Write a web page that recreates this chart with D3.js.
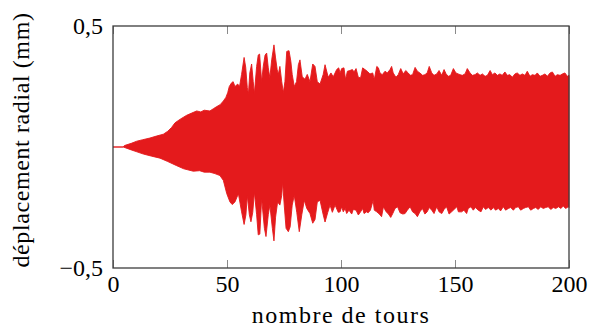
<!DOCTYPE html>
<html>
<head>
<meta charset="utf-8">
<script src="https://cdn.jsdelivr.net/npm/d3@7"></script>
<style>
  html, body { margin: 0; padding: 0; background: #fff; }
  svg { display: block; }
</style>
</head>
<body>
<svg id="chart" width="590" height="334"></svg>
<script>
// ---- Data ----
// Upper envelope of the radial displacement signal: turn number / value (mm)
const upperTurns = [0, 4.5, 5, 8, 10.4, 13, 16.2, 19, 22.1, 24, 25.7, 27.2, 29.5, 32.3, 34.5, 36.7, 38.5, 40, 42.5, 44, 45.5, 47, 48.4, 49.5,
  50.3, 51, 52, 52.7, 53.5, 54.7, 55.5, 56.4, 57.5, 58.2, 58.9, 59.4, 60, 60.8, 61.5, 62, 63, 63.7, 64.3, 65.2, 65.9, 66.7, 67.4, 68.1, 68.8,
  69.6, 70.6, 71.3, 72, 72.5, 73.2, 74, 74.7, 75.4, 76.2, 77.2, 78, 78.6, 79.5, 80.5, 81.3, 82, 83, 84.2, 85.2, 86.4, 87.6, 88.6, 89.6, 90.8,
  92.2, 93, 94.4, 95.6, 96.6, 98.1, 99.0,
  99.6, 100.3, 101.3, 102.0, 102.8, 103.9, 105.0, 105.7, 106.6, 107.6, 108.6, 109.5, 110.5, 111.5, 112.7, 113.9, 114.6, 115.7, 116.4, 117.1,
  118.1, 119.3, 120.3, 121.5, 122.2, 122.9, 124.1, 125.1, 126.2, 127.3, 128.4, 129.5, 130.3, 131.4, 132.5, 133.5, 134.6, 135.8, 136.8, 137.8,
  138.7, 139.8, 140.8, 142.0, 143.0, 144.2, 145.2, 146.1, 147.1, 148.1, 149.3, 150.4, 151.4,
  152.2, 153.2, 154.4, 155.4, 156.6, 157.6, 158.8, 159.8, 161.0, 162.0, 163.2, 164.2, 165.4, 166.4, 167.5, 168.6, 169.7, 170.7, 171.9, 172.9,
  174.1, 175.1, 176.3, 177.3, 178.5, 179.5, 180.7, 181.7, 182.9, 183.9, 185.1, 186.1, 187.3, 188.3, 189.5, 190.5, 191.7, 192.7, 193.9, 194.9,
  196.1, 197.1, 198.2, 199.3, 200];
const upperValues = [0, 0, 0.006, 0.015, 0.024, 0.030, 0.037, 0.045, 0.053, 0.065, 0.081, 0.100, 0.115, 0.131, 0.140, 0.149, 0.145, 0.152, 0.149, 0.158, 0.167, 0.175, 0.190, 0.205,
  0.224, 0.250, 0.265, 0.270, 0.250, 0.260, 0.250, 0.300, 0.370, 0.330, 0.245, 0.220, 0.306, 0.343, 0.270, 0.220, 0.333, 0.380, 0.384, 0.270, 0.333, 0.380, 0.388, 0.327, 0.286,
  0.360, 0.422, 0.368, 0.320, 0.300, 0.333, 0.270, 0.224, 0.270, 0.395, 0.398, 0.354, 0.300, 0.250, 0.270, 0.340, 0.360, 0.290, 0.280, 0.300, 0.270, 0.343, 0.333, 0.270, 0.260,
  0.300, 0.340, 0.288, 0.306, 0.290, 0.320, 0.327,
  0.306, 0.324, 0.327, 0.279, 0.313, 0.316, 0.320, 0.310, 0.324, 0.288, 0.286, 0.327, 0.320, 0.313, 0.302, 0.306, 0.279, 0.333, 0.327, 0.306,
  0.299, 0.313, 0.306, 0.320, 0.333, 0.306, 0.288, 0.299, 0.324, 0.302, 0.316, 0.306, 0.296, 0.299, 0.329, 0.313, 0.306, 0.296, 0.299, 0.306,
  0.333, 0.306, 0.296, 0.302, 0.316, 0.296, 0.320, 0.302, 0.292, 0.296, 0.324, 0.306, 0.302,
  0.299, 0.296, 0.302, 0.324, 0.306, 0.296, 0.299, 0.306, 0.296, 0.302, 0.292, 0.296, 0.316, 0.299, 0.306, 0.296, 0.302, 0.296, 0.310, 0.296,
  0.299, 0.288, 0.302, 0.306, 0.296, 0.302, 0.296, 0.313, 0.292, 0.299, 0.296, 0.306, 0.292, 0.296, 0.302, 0.292, 0.306, 0.310, 0.292, 0.299,
  0.296, 0.302, 0.306, 0.292, 0.296];

// Lower envelope: turn number / value (mm)
const lowerTurns = [0, 4.5, 8, 10.5, 13.3, 17, 20.6, 24, 27.9, 31, 35.2, 38, 40, 42.5, 44.7, 46.9, 48.4, 49.9, 51.3, 52.3, 53.5, 55, 56.4, 57.5,
  58.3, 58.9, 59.8, 60.5, 61.3, 62, 63, 63.7, 64.4, 65.2, 66.4, 67.1, 68.1, 68.8, 69.9, 70.6, 71.3, 72.2, 73.2, 74, 74.4, 75.1, 75.9, 76.9,
  77.7, 78.6, 79.5, 80.6, 81.7, 82.8, 83.9, 85, 86.4, 87.6, 88.6, 89.6, 90.8, 92.2, 93, 94.2, 95.2, 96.2, 97.4, 98.8,
  99.6, 100.3, 101.0, 101.8, 102.5, 103.5, 104.7, 105.4, 106.6, 107.6, 108.6, 109.5, 110.1, 111.2, 111.9, 112.9, 114.1, 114.6, 115.7, 116.8,
  117.8, 118.6, 119.8, 120.8, 121.8, 122.7, 123.7, 124.8, 125.9, 127.1, 128.1, 129.1, 130.3, 131.4, 132.5, 133.5, 134.6, 135.7, 136.8, 137.8,
  138.7, 139.8, 140.8, 142.0, 143.0, 144.2, 145.2, 146.3, 147.4, 148.5, 149.6, 150.8, 151.5,
  152.9, 153.9, 155.1, 155.8, 157.0, 158.0, 159.0, 160.2, 161.4, 162.4, 163.4, 164.6, 165.8, 166.8, 167.8, 169.0, 170.0, 171.2, 172.2, 173.4,
  174.4, 175.6, 176.6, 177.8, 178.8, 180.0, 181.0, 182.2, 183.2, 184.4, 185.4, 186.5, 187.6, 188.7, 189.8, 190.9, 192.0, 193.1, 194.2, 195.4,
  196.4, 197.5, 198.5, 199.7, 200];
const lowerValues = [0, 0, -0.012, -0.020, -0.029, -0.038, -0.046, -0.060, -0.077, -0.090, -0.100, -0.098, -0.104, -0.104, -0.110, -0.118, -0.138, -0.193, -0.227, -0.238, -0.227, -0.193, -0.268, -0.320,
  -0.280, -0.200, -0.280, -0.309, -0.270, -0.186, -0.280, -0.363, -0.360, -0.213, -0.336, -0.370, -0.280, -0.240, -0.336, -0.388, -0.290, -0.227, -0.240, -0.200, -0.145, -0.240, -0.336, -0.350,
  -0.330, -0.240, -0.200, -0.270, -0.350, -0.280, -0.220, -0.254, -0.275, -0.315, -0.300, -0.227, -0.220, -0.280, -0.310, -0.270, -0.240, -0.270, -0.240, -0.270,
  -0.268, -0.247, -0.268, -0.254, -0.275, -0.261, -0.277, -0.258, -0.261, -0.281, -0.268, -0.254, -0.275, -0.268, -0.272, -0.261, -0.220, -0.261, -0.268, -0.277,
  -0.288, -0.247, -0.268, -0.277, -0.291, -0.275, -0.254, -0.247, -0.272, -0.277, -0.275, -0.261, -0.247, -0.268, -0.275, -0.288, -0.268, -0.254, -0.277, -0.268,
  -0.250, -0.261, -0.275, -0.247, -0.268, -0.275, -0.258, -0.247, -0.277, -0.268, -0.258, -0.247, -0.268,
  -0.268, -0.261, -0.275, -0.254, -0.247, -0.261, -0.250, -0.261, -0.268, -0.247, -0.258, -0.250, -0.261, -0.250, -0.261, -0.254, -0.264, -0.247, -0.261, -0.254,
  -0.250, -0.261, -0.250, -0.247, -0.261, -0.254, -0.250, -0.247, -0.261, -0.254, -0.250, -0.258, -0.247, -0.254, -0.250, -0.247, -0.258, -0.250, -0.254, -0.247,
  -0.254, -0.244, -0.254, -0.247, -0.250];

const xTicks = [0, 50, 100, 150, 200];
const yTicks = [-0.5, 0.5];
const xTitle = "nombre de tours";
const yTitle = "déplacement radial (mm)";

// ---- Drawing ----
const svg = d3.select("#chart");
const mLeft = 113, mRight = 569, mTop = 26, mBottom = 268;
const x = d3.scaleLinear().domain([0, 200]).range([mLeft, mRight]);
const y = d3.scaleLinear().domain([-0.5, 0.5]).range([mBottom, mTop]);
const red = "#e41a1c";
const serif = "'Liberation Serif', 'DejaVu Serif', 'Noto Serif', Tinos, 'Times New Roman', Times, FreeSerif, 'Nimbus Roman', 'Nimbus Roman No9 L', Georgia, serif";

const upperPts = upperTurns.map((t, i) => [t, upperValues[i]]);
const lowerPts = lowerTurns.map((t, i) => [t, lowerValues[i]]).reverse();
const outline = upperPts.concat(lowerPts);

const line = d3.line().x(d => x(d[0])).y(d => y(d[1]));
svg.append("path")
  .attr("d", line(outline) + "Z")
  .attr("fill", red)
  .attr("stroke", red)
  .attr("stroke-width", 0.9)
  .attr("stroke-linejoin", "miter");

const loc = d3.formatLocale({decimal: ",", thousands: " ", grouping: [3], currency: ["", ""], minus: "\u2212"});
const fmtY = loc.format(".1f");

const tickColor = "#8a8a8a";
// bottom axis
const gx = svg.append("g").attr("transform", `translate(0,${mBottom})`)
  .call(d3.axisBottom(x).tickValues(xTicks).tickSize(-8).tickPadding(14).tickFormat(d3.format("d")));
gx.attr("font-family", null).style("font-family", serif).attr("font-size", null);
gx.select(".domain").remove();
gx.selectAll(".tick line").attr("stroke", tickColor).attr("stroke-width", 1);
gx.selectAll(".tick text").style("font-size", "24px").style("font-family", serif).attr("fill", "#000").attr("dy", "0.71em").attr("y", 7);

// top axis (ticks only)
const gt = svg.append("g").attr("transform", `translate(0,${mTop})`)
  .call(d3.axisTop(x).tickValues(xTicks).tickSize(-8).tickFormat(""));
gt.select(".domain").remove();
gt.selectAll(".tick line").attr("stroke", tickColor).attr("stroke-width", 1);

// left axis labels
const gy = svg.append("g").attr("transform", `translate(${mLeft},0)`)
  .call(d3.axisLeft(y).tickValues(yTicks).tickSize(0).tickPadding(10).tickFormat(fmtY));
gy.attr("font-family", null).style("font-family", serif).attr("font-size", null);
gy.select(".domain").remove();
gy.selectAll(".tick text").style("font-size", "24px").style("font-family", serif).attr("fill", "#000").attr("dy", "0.32em");

// frame
svg.append("rect")
  .attr("x", mLeft).attr("y", mTop)
  .attr("width", mRight - mLeft).attr("height", mBottom - mTop)
  .attr("fill", "none").attr("stroke", "#3c3c3c").attr("stroke-width", 1.3);

// titles
svg.append("text")
  .attr("x", (mLeft + mRight) / 2).attr("y", 323)
  .attr("text-anchor", "middle")
  .style("font-family", serif)
  .style("font-size", "24px").style("letter-spacing", "1.5px")
  .text(xTitle);

svg.append("text")
  .attr("transform", `translate(29,140) rotate(-90)`)
  .attr("text-anchor", "middle")
  .style("font-family", serif)
  .style("font-size", "24px").style("letter-spacing", "0.6px")
  .text(yTitle);
</script>
</body>
</html>
